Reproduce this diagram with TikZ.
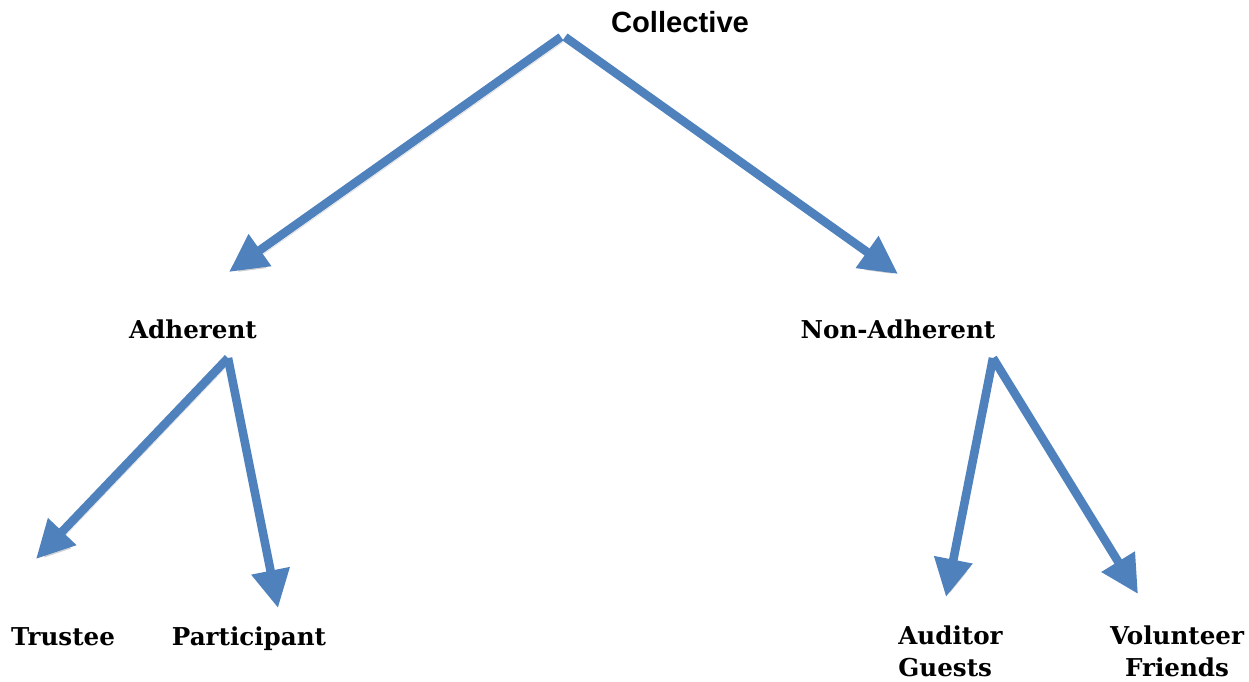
\documentclass[tikz,border=0pt]{standalone}
\usepackage{fontspec}
\setmainfont{DejaVu Serif}
\newfontfamily\headfont{Liberation Sans}
\usepackage{xcolor}
\usetikzlibrary{arrows.meta, positioning}
\definecolor{arrowblue}{RGB}{79,129,189}

\begin{document}
\begin{tikzpicture}[
    x=0.5pt, y=-0.5pt,
    every node/.style={font=\fontsize{12.3}{16}\selectfont\bfseries, inner sep=0pt},
    head/.style={font=\headfont\fontsize{14.6}{16}\selectfont\bfseries},
    shade/.style={preaction={draw=black, opacity=0.12, transform canvas={shift={(1pt,-2.5pt)}}}},
    arrow/.style={-{Triangle[length=19pt, width=18.5pt]}, line width=4.3pt, arrowblue, shade}
]
\useasboundingbox (0,0) rectangle (1249,681);

% --- Top level ---
\node[head, anchor=base] (collective) at (680,32) {Collective};
\coordinate (c_left) at (561,37);
\coordinate (c_right) at (565,37);

% --- Second level ---
\node[anchor=base] (adherent) at (193,338) {Adherent};
\node[anchor=base] (nonadherent) at (898,338) {Non-Adherent};
\coordinate (a_top) at (228,358);
\coordinate (n_top) at (993,358);

% --- Tips ---
\coordinate (t_adh) at (229,272);
\coordinate (t_non) at (898,274);
\coordinate (t_trustee) at (36,559);
\coordinate (t_part) at (278,608);
\coordinate (t_aud) at (946,597);
\coordinate (t_vol) at (1138,594);

% --- Leaves ---
\node[anchor=base] (trustee) at (63,645) {Trustee};
\node[anchor=base] (participant) at (249,645) {Participant};
\node[anchor=west, align=left] (auditor) at (898,651) {Auditor\\Guests};
\node[align=center] (volunteer) at (1177,651) {Volunteer\\Friends};

\draw[arrow] (c_left) -- (t_adh);
\draw[arrow] (c_right) -- (t_non);
\draw[arrow] (a_top) -- (t_trustee);
\draw[arrow] (a_top) -- (t_part);
\draw[arrow] (n_top) -- (t_aud);
\draw[arrow] (n_top) -- (t_vol);

\end{tikzpicture}
\end{document}
